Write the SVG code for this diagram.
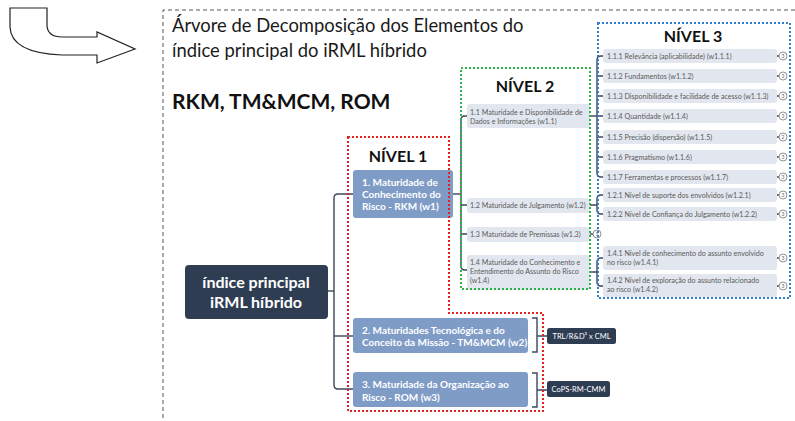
<svg xmlns="http://www.w3.org/2000/svg" width="795" height="421" viewBox="0 0 795 421">
<style>
.t{font-family:Lato,"Open Sans",sans-serif}
.title{font-size:18.4px;fill:#1a1a1a}
.big{font-size:21px;font-weight:bold;fill:#111}
.niv{font-size:16px;font-weight:bold;fill:#111;text-anchor:middle}
.root{fill:#2f3d53}
.rt{font-size:16px;font-weight:bold;fill:#fff;text-anchor:middle}
.l1{fill:#7f9cc7}
.l1t{font-size:10px;font-weight:bold;fill:#fff}
.lb{fill:#e2e7ef}
.lt{font-size:7.1px;fill:#5a5a5a}
.tag{fill:#2f3d53}
.tagt{font-size:7.5px;fill:#fff;text-anchor:middle}
.cn{fill:none;stroke:#3b4759;stroke-width:1.4}
.cc{fill:#fff;stroke:#777;stroke-width:0.8}
.ct{font-size:5px;fill:#666;text-anchor:middle}
</style>
<g id="frame">
<path d="M163,418 L163,10 L795,10" fill="none" stroke="#555" stroke-width="1" stroke-dasharray="4 3"/>
<path d="M10,8 L47,8 L47,26 Q48,37 62,37 L97,37 L97,32 L135,49 L97,63 L97,55 L62,55 Q11,53 10,27 Z" fill="#fff" stroke="#222" stroke-width="1.2"/>
</g>
<g id="titles" class="t">
<text class="t title" x="172" y="32">Árvore de Decomposição dos Elementos do</text>
<text class="t title" x="172" y="57">índice principal do iRML híbrido</text>
<text class="t big" x="172" y="109">RKM, TM&amp;MCM, ROM</text>
</g>
<g id="connectors">
<path class="cn" d="M328,291 H334"/>
<path class="cn" d="M353,194 H338 Q334,194 334,198 V385 Q334,389 338,389 H353"/>
<path class="cn" d="M334,336 H353"/>
<path class="cn" d="M453,194 H461"/>
<path class="cn" d="M467,116 H465 Q461,116 461,120 V266 Q461,270 465,270 H467"/>
<path class="cn" d="M461,205 H467 M461,234 H467"/>
<path class="cn" d="M590,116 H597"/>
<path class="cn" d="M603,56 H601 Q597,56 597,60 V173 Q597,177 601,177 H603"/>
<path class="cn" d="M597,76 H603 M597,96 H603 M597,116 H603 M597,137 H603 M597,157 H603"/>
<path class="cn" d="M590,205 H597 M603,195 H601 Q597,195 597,199 V210 Q597,214 601,214 H603"/>
<path class="cn" d="M590,272 H597 M603,258 H601 Q597,258 597,262 V282 Q597,286 601,286 H603"/>
<path class="cn" d="M590,234 H593"/>
<path class="cn" d="M777,56 H779 M777,76 H779 M777,96 H779 M777,116 H779 M777,137 H779 M777,157 H779 M777,177 H779 M777,195 H779 M777,214 H779 M777,258 H779 M777,286 H779"/>
<path class="cn" d="M532,318 H537 V352 H532 M537,336 H547"/>
<path class="cn" d="M532,373 H537 V407 H532 M537,390 H547"/>
</g>
<g id="root">
<rect class="root" x="185" y="265" width="143" height="54" rx="4"/>
<text class="t rt" x="256" y="288">índice principal</text>
<text class="t rt" x="256" y="308">iRML híbrido</text>
</g>
<g id="n1">
<rect class="l1" x="353" y="170" width="100" height="48" rx="3"/>
<text class="t l1t" x="362" y="185.5">1. Maturidade de</text>
<text class="t l1t" x="362" y="197.5">Conhecimento do</text>
<text class="t l1t" x="362" y="209.5">Risco - RKM (w1)</text>
</g>
<g id="n2">
<rect class="l1" x="353" y="318" width="175" height="35" rx="3"/>
<text class="t l1t" x="362" y="333.5">2. Maturidades Tecnológica e do</text>
<text class="t l1t" x="362" y="345.5">Conceito da Missão - TM&amp;MCM (w2)</text>
</g>
<g id="n3">
<rect class="l1" x="353" y="372" width="175" height="35" rx="3"/>
<text class="t l1t" x="362" y="387.5">3. Maturidade da Organização ao</text>
<text class="t l1t" x="362" y="400.5">Risco - ROM (w3)</text>
</g>
<g id="tag2">
<rect class="tag" x="547" y="328" width="69" height="16" rx="2.5"/>
<text class="t tagt" x="581.5" y="338.7">TRL/R&amp;D³ x CML</text>
</g>
<g id="tag3">
<rect class="tag" x="547" y="381" width="63" height="16" rx="2.5"/>
<text class="t tagt" x="578.5" y="391.7">CoPS-RM-CMM</text>
</g>
<g id="n11">
<rect class="lb" x="467" y="104" width="123" height="24" rx="3"/>
<text class="t lt" x="470" y="114.5">1.1 Maturidade e Disponibilidade de</text>
<text class="t lt" x="470" y="124">Dados e Informações (w1.1)</text>
</g>
<g id="n12">
<rect class="lb" x="467" y="198" width="123" height="15" rx="3"/>
<text class="t lt" x="470" y="208">1.2 Maturidade de Julgamento (w1.2)</text>
</g>
<g id="n13">
<rect class="lb" x="467" y="227" width="123" height="15" rx="3"/>
<text class="t lt" x="470" y="237">1.3 Maturidade de Premissas (w1.3)</text>
<circle class="cc" cx="597" cy="234" r="4"/>
<text class="t ct" x="597" y="235.8">1</text>
</g>
<g id="n14">
<rect class="lb" x="467" y="255" width="123" height="35" rx="3"/>
<text class="t lt" x="470" y="264.5">1.4 Maturidade do Conhecimento e</text>
<text class="t lt" x="470" y="273.5">Entendimento do Assunto do Risco</text>
<text class="t lt" x="470" y="282.5"> (w1.4)</text>
</g>
<g id="n111"><rect class="lb" x="603" y="49" width="174" height="14" rx="3"/><text class="t lt" x="607" y="58.5">1.1.1 Relevância  (aplicabilidade) (w1.1.1)</text><circle class="cc" cx="783" cy="56" r="4"/><text class="t ct" x="783" y="57.8">3</text></g>
<g id="n112"><rect class="lb" x="603" y="69" width="174" height="14" rx="3"/><text class="t lt" x="607" y="78.5">1.1.2 Fundamentos (w1.1.2)</text><circle class="cc" cx="783" cy="76" r="4"/><text class="t ct" x="783" y="77.8">3</text></g>
<g id="n113"><rect class="lb" x="603" y="89" width="174" height="14" rx="3"/><text class="t lt" x="607" y="98.5">1.1.3 Disponibilidade e facilidade de acesso (w1.1.3)</text><circle class="cc" cx="783" cy="96" r="4"/><text class="t ct" x="783" y="97.8">3</text></g>
<g id="n114"><rect class="lb" x="603" y="109" width="174" height="14" rx="3"/><text class="t lt" x="607" y="118.5">1.1.4 Quantidade (w1.1.4)</text><circle class="cc" cx="783" cy="116" r="4"/><text class="t ct" x="783" y="117.8">3</text></g>
<g id="n115"><rect class="lb" x="603" y="130" width="174" height="14" rx="3"/><text class="t lt" x="607" y="139.5">1.1.5 Precisão (dispersão)  (w1.1.5)</text><circle class="cc" cx="783" cy="137" r="4"/><text class="t ct" x="783" y="138.8">2</text></g>
<g id="n116"><rect class="lb" x="603" y="150" width="174" height="14" rx="3"/><text class="t lt" x="607" y="159.5">1.1.6 Pragmatismo (w1.1.6)</text><circle class="cc" cx="783" cy="157" r="4"/><text class="t ct" x="783" y="158.8">3</text></g>
<g id="n117"><rect class="lb" x="603" y="170" width="174" height="14" rx="3"/><text class="t lt" x="607" y="179.5">1.1.7 Ferramentas e processos (w1.1.7)</text><circle class="cc" cx="783" cy="177" r="4"/><text class="t ct" x="783" y="178.8">3</text></g>
<g id="n121"><rect class="lb" x="603" y="188" width="174" height="14" rx="3"/><text class="t lt" x="607" y="197.5">1.2.1 Nível de suporte dos envolvidos (w1.2.1)</text><circle class="cc" cx="783" cy="195" r="4"/><text class="t ct" x="783" y="196.8">3</text></g>
<g id="n122"><rect class="lb" x="603" y="207" width="174" height="14" rx="3"/><text class="t lt" x="607" y="216.5">1.2.2 Nível de Confiança do Julgamento (w1.2.2)</text><circle class="cc" cx="783" cy="214" r="4"/><text class="t ct" x="783" y="215.8">3</text></g>
<g id="n141"><rect class="lb" x="603" y="246" width="174" height="24" rx="3"/><text class="t lt" x="607" y="255.5">1.4.1 Nível de conhecimento do assunto envolvido</text><text class="t lt" x="607" y="264.5">no risco (w1.4.1)</text><circle class="cc" cx="783" cy="258" r="4"/><text class="t ct" x="783" y="259.8">3</text></g>
<g id="n142"><rect class="lb" x="603" y="274" width="174" height="23" rx="3"/><text class="t lt" x="607" y="283">1.4.2 Nível de exploração do assunto relacionado</text><text class="t lt" x="607" y="292">ao risco (w1.4.2)</text><circle class="cc" cx="783" cy="286" r="4"/><text class="t ct" x="783" y="287.8">3</text></g>
<g id="levels">
<path d="M348,137 H449 V313 H543 V411 H348 Z" fill="none" stroke="#e52222" stroke-width="2" stroke-dasharray="2 2"/>
<rect x="461" y="68" width="129" height="221" fill="none" stroke="#2eb34b" stroke-width="2" stroke-dasharray="2 2"/>
<rect x="598" y="23" width="192" height="275" fill="none" stroke="#2f7fd0" stroke-width="2" stroke-dasharray="2 2"/>
<text class="t niv" x="398" y="162">NÍVEL 1</text>
<text class="t niv" x="525" y="92">NÍVEL 2</text>
<text class="t niv" x="693" y="42">NÍVEL 3</text>
</g>
</svg>
